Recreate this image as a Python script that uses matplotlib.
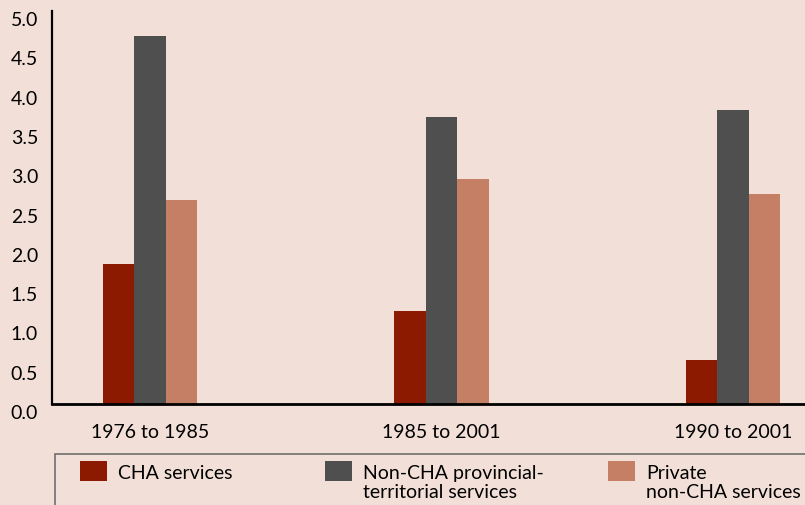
import matplotlib.pyplot as plt
import matplotlib.transforms as mtransforms
from matplotlib.patches import Rectangle
import numpy as np

OUTPUT_PATH = "out.png"

periods = ["1976 to 1985", "1985 to 2001", "1990 to 2001"]
series_names = ["CHA services", "Non-CHA provincial-\nterritorial services", "Private\nnon-CHA services"]
cha = [1.78, 1.18, 0.56]
non_cha = [4.68, 3.65, 3.74]
private = [2.60, 2.86, 2.67]
y_ticks = [0.0, 0.5, 1.0, 1.5, 2.0, 2.5, 3.0, 3.5, 4.0, 4.5, 5.0]

BG = "#f2e0d8"
COLORS = ["#8b1a00", "#4f4f4f", "#c47f65"]
FONT = "Lato"


def plot(output):
    plt.rcParams["font.family"] = [FONT, "DejaVu Sans"]
    fig = plt.figure(figsize=(8.05, 5.06), dpi=100, facecolor=BG)
    ax = fig.add_axes([52 / 805, 1 - 405 / 506, 1 - 52 / 805, (405 - 12) / 506])
    ax.set_facecolor(BG)

    x = np.arange(len(periods))
    width = 0.108
    for i, vals in enumerate([cha, non_cha, private]):
        ax.bar(x + (i - 1) * width, vals, width, color=COLORS[i], linewidth=0)

    ax.set_xlim(-0.336, 2.247)
    ax.set_ylim(0, 5.0)
    ax.set_yticks(y_ticks)
    ax.set_yticklabels([f"{v:.1f}" for v in y_ticks], fontsize=14)
    ax.set_xticks(x)
    ax.set_xticklabels(periods, fontsize=14)
    ax.tick_params(axis="y", length=0, pad=10)
    ax.tick_params(axis="x", length=0, pad=14)

    shift = mtransforms.ScaledTranslation(0, -7 / 100, fig.dpi_scale_trans)
    for lab in ax.get_yticklabels():
        lab.set_transform(lab.get_transform() + shift)

    for side in ["top", "right"]:
        ax.spines[side].set_visible(False)
    ax.spines["left"].set_linewidth(1.6)
    ax.spines["bottom"].set_linewidth(2.0)

    # legend box, drawn by hand so that it runs off the figure like the original
    fig.patches.append(Rectangle((55 / 805, -0.1), 1, 0.1 + 1 - 455 / 506,
                                 transform=fig.transFigure, facecolor=BG,
                                 edgecolor="#6e6e6e", linewidth=1.2))
    patch_x = [80, 325, 608]
    for px, name, color in zip(patch_x, series_names, COLORS):
        fig.patches.append(Rectangle((px / 805, 1 - 482 / 506), 27 / 805, 20 / 506,
                                     transform=fig.transFigure, facecolor=color,
                                     linewidth=0))
        fig.text((px + 38) / 805, 1 - 465 / 506, name, fontsize=14, va="top",
                 ha="left", linespacing=1.12)

    fig.savefig(output, dpi=100, facecolor=BG)


if __name__ == "__main__":
    plot(OUTPUT_PATH)
